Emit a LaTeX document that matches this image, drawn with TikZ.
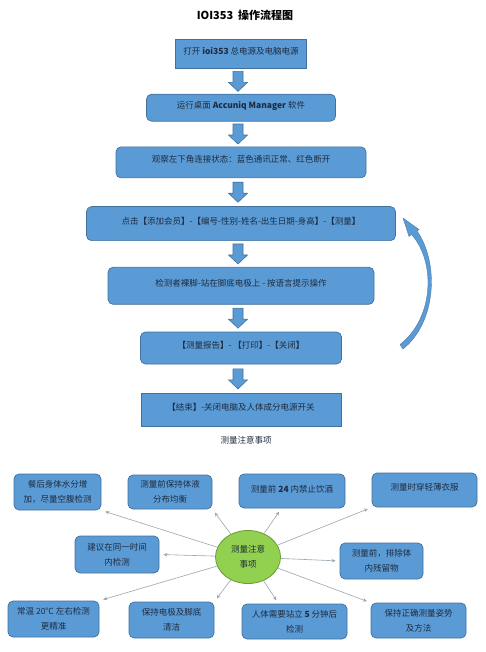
\documentclass[tikz,border=0pt]{standalone}
\usepackage{fontspec}
\setmainfont{Noto Sans CJK SC}
\usetikzlibrary{positioning, arrows.meta, calc, shapes.geometric}
\definecolor{boxblue}{HTML}{5B9BD5}
\definecolor{boxedge}{HTML}{41719C}
\definecolor{hubgreen}{HTML}{92D050}
\definecolor{hubedge}{HTML}{6B9A3A}
\definecolor{linkgray}{HTML}{9AA6AE}
\definecolor{inktext}{HTML}{1E2B40}

\begin{document}
\begin{tikzpicture}[x=1pt, y=-1pt,
    node distance=26pt,
    flowbox/.style={draw=boxedge, fill=boxblue, line width=0.7pt, rounded corners=5pt,
        minimum height=30pt, inner sep=0pt, text=inktext, font=\fontsize{8.5}{10}\selectfont},
    flowstep/.style={flowbox, text depth=6pt},
    flowrect/.style={flowstep, rounded corners=0pt},
    note/.style={flowbox, align=center, font=\fontsize{8.5}{15}\selectfont},
    hub/.style={ellipse, draw=hubedge, fill=hubgreen, line width=0.8pt, minimum width=65pt,
        minimum height=53pt, inner sep=0pt, align=center, text=inktext, font=\fontsize{8.5}{15}\selectfont},
    link/.style={-{Stealth[length=4pt, width=3.5pt]}, linkgray, line width=0.6pt, shorten >=4pt},
    loopback/.style={fill=boxblue, draw=boxedge, line width=0.3pt},
    downarrow/.pic={
        \filldraw[fill=boxblue, draw=boxedge, line width=0.6pt]
            (-5,-10) -- (5,-10) -- (5,1) -- (9.5,1) -- (0,10) -- (-9.5,1) -- (-5,1) -- cycle;
    }
]
\useasboundingbox (0,0) rectangle (485,652);
\fill[white] (0,0) rectangle (485,652);

% Flowchart: title and the seven steps
\node[font=\fontsize{11}{13}\selectfont\bfseries] (title) at (245,15) {IOI353\ \ 操作流程图};

\node[flowrect, minimum width=131pt, minimum height=29pt] (s1) at (241,54) {打开 \textbf{ioi353} 总电源及电脑电源};
\node[flowstep, minimum width=189pt, minimum height=27pt, below=25pt of s1] (s2) {运行桌面 \textbf{Accuniq Manager} 软件};
\node[flowstep, minimum width=250pt, minimum height=31pt, below=25pt of s2] (s3) {观察左下角连接状态：蓝色通讯正常、红色断开};
\node[flowstep, minimum width=309pt, minimum height=34pt, below=28pt of s3] (s4) {点击\textbf{【}添加会员\textbf{】}-\textbf{【}编号-性别-姓名-出生日期-身高\textbf{】}-\textbf{【}测量\textbf{】}};
\node[flowstep, minimum width=266pt, minimum height=37pt, below=26pt of s4] (s5) {检测者裸脚-站在脚底电极上 - 按语言提示操作};
\node[flowstep, minimum width=201pt, minimum height=32pt, below=27pt of s5] (s6) {\textbf{【}测量报告\textbf{】}- \textbf{【}打印\textbf{】}-\textbf{【}关闭\textbf{】}};
\node[flowrect, minimum width=200pt, minimum height=33pt, below=29pt of s6] (s7) {\textbf{【}结束\textbf{】}-关闭电脑及人体成分电源开关};

% Block arrows between the steps
\foreach \a/\b in {s1/s2, s2/s3, s3/s4, s4/s5, s5/s6, s6/s7}
    \pic at ([xshift=-3pt]$(\a.south)!0.5!(\b.north)$) {downarrow};

% Curved block arrow back from the report step to the measuring step
\filldraw[loopback] (403,349) .. controls (437,322) and (439,262) .. (417,231)
    -- (419,229.5) -- (403,218) -- (409,236.5) -- (411.5,234.5)
    .. controls (436,262) and (434,318) .. (400,344.5) -- cycle;

% Notes around the hub
\node[font=\fontsize{8.5}{10}\selectfont, text=inktext] (notes) at (246,440) {测量注意事项};
\node[hub] (hub) at (248,557) {测量注意\\事项};

\node[note, minimum width=87pt, minimum height=36pt] (n1) at (57.5,492) {餐后身体水分增\\加，尽量空腹检测};
\node[note, minimum width=84pt, minimum height=34pt] (n2) at (170,492) {测量前保持体液\\分布均衡};
\node[note, minimum width=106pt, minimum height=34pt, text depth=5pt] (n3) at (292,491) {测量前 \textbf{24} 内禁止饮酒};
\node[note, minimum width=105pt, minimum height=34pt, text depth=6pt] (n4) at (424.5,490) {测量时穿轻薄衣服};
\node[note, minimum width=84pt, minimum height=37pt] (n5) at (117,554.5) {建议在同一时间\\内检测};
\node[note, minimum width=83pt, minimum height=36pt] (n6) at (381.5,561) {测量前，排除体\\内残留物};
\node[note, minimum width=91pt, minimum height=36pt] (n7) at (53.5,619) {常温 20℃ 左右检测\\更精准};
\node[note, minimum width=85pt, minimum height=36pt] (n8) at (171.5,620) {保持电极及脚底\\清洁};
\node[note, minimum width=105pt, minimum height=35pt] (n9) at (294.5,621.5) {人体需要站立 \textbf{5} 分钟后\\检测};
\node[note, minimum width=95pt, minimum height=35pt] (n10) at (418.5,620.5) {保持正确测量姿势\\及方法};

\draw[link] (hub) -- (n1.south east);
\draw[link] (hub) -- (n2.south east);
\draw[link] (hub) -- ($(n3.south west)!0.4!(n3.south east)$);
\draw[link] (hub) -- (n4.south west);
\draw[link] (hub) -- (n5.east);
\draw[link] (hub) -- (n6.west);
\draw[link] (hub) -- (n7.north east);
\draw[link] (hub) -- (n8.north east);
\draw[link] (hub) -- ($(n9.north west)!0.35!(n9.north east)$);
\draw[link] (hub) -- (n10.north west);

\end{tikzpicture}
\end{document}
